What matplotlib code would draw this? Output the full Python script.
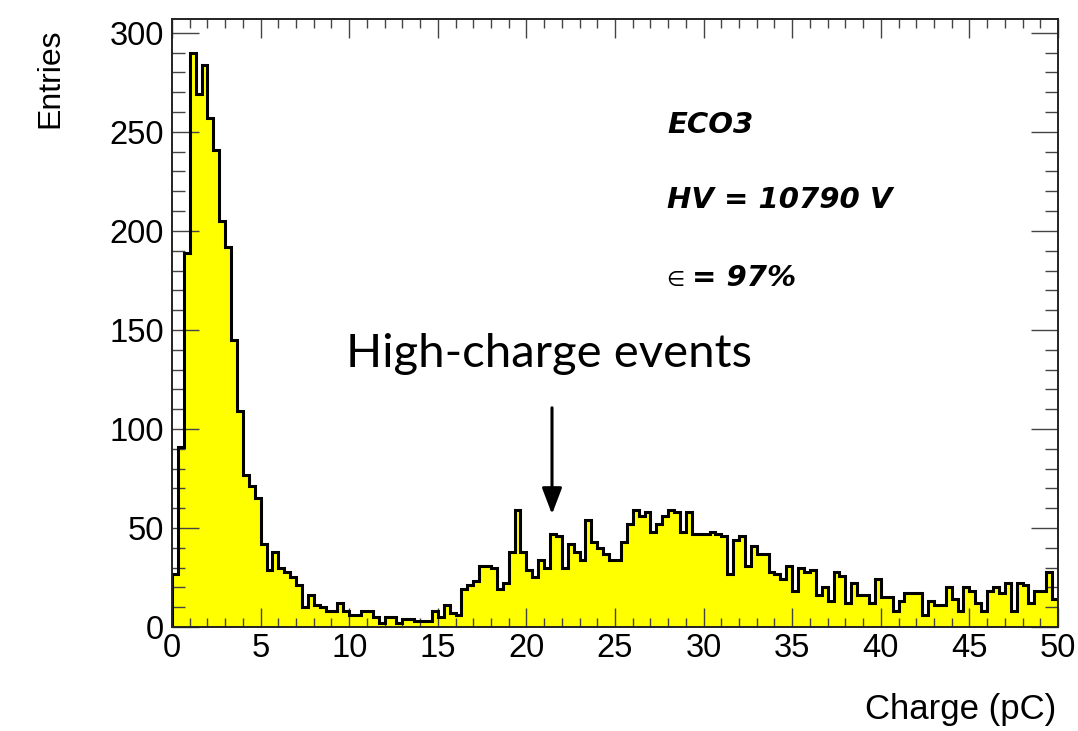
import numpy as np
import matplotlib
matplotlib.use('Agg')
import matplotlib.pyplot as plt
from matplotlib.ticker import MultipleLocator

# histogram: 150 bins of 1/3 pC between 0 and 50 pC
q_min, q_max = 0.0, 50.0
# counts, 3 bins per pC
counts_peak = [27, 91, 189, 290, 269, 284, 257, 241, 205, 192, 145, 109,
               77, 71, 65, 42, 29, 38, 30, 28, 25, 21, 10, 16,
               11, 10, 8, 8, 12, 8, 6, 6, 8, 8, 5, 2,
               5, 5, 2, 4, 4, 3, 3, 3, 8, 5, 11, 7,
               6, 19, 21]
counts_bump = [23, 31, 31, 30, 19, 22, 38, 59, 38, 29, 25, 34,
               30, 47, 46, 30, 42, 38, 34, 54, 43, 40, 37, 34,
               34, 43, 52, 59, 56, 58, 48, 52, 56, 59, 58, 48,
               58, 47, 47, 47, 48, 47, 46, 27, 44, 46, 31, 41,
               37, 37, 28]
counts_tail = [27, 24, 31, 18, 30, 28, 29, 16, 20, 13, 28, 26,
               12, 22, 16, 16, 12, 24, 15, 15, 8, 13, 17, 17,
               17, 6, 13, 11, 11, 20, 14, 8, 20, 18, 12, 8,
               18, 20, 17, 22, 8, 22, 21, 12, 18, 18, 28, 14]

labels = ["ECO3", "HV = 10790 V", "= 97%"]

counts = np.array(counts_peak + counts_bump + counts_tail)
edges = np.linspace(q_min, q_max, len(counts) + 1)

W, H = 1078, 731
fig = plt.figure(figsize=(W / 100, H / 100), dpi=100)

def fx(px):
    return px / W

def fy(py):
    return 1 - py / H

ax = fig.add_axes([fx(172), fy(627), fx(1058) - fx(172), fy(19) - fy(627)])

ax.stairs(counts, edges, fill=True, color='#ffff00', zorder=1)
ax.stairs(counts, edges, color='black', linewidth=2.2, zorder=2)

ax.set_xlim(q_min, q_max)
ax.set_ylim(0, 307)

ax.xaxis.set_major_locator(MultipleLocator(5))
ax.xaxis.set_minor_locator(MultipleLocator(1))
ax.yaxis.set_major_locator(MultipleLocator(50))
ax.yaxis.set_minor_locator(MultipleLocator(10))

ax.tick_params(axis='both', which='both', direction='in', top=True, right=True,
               colors='#444444', width=1.0, labelcolor='black')
ax.tick_params(axis='x', which='major', length=13.5, pad=4)
ax.tick_params(axis='x', which='minor', length=6.8)
ax.tick_params(axis='y', which='major', length=19.5, pad=6)
ax.tick_params(axis='y', which='minor', length=9.7)
for lab in ax.get_xticklabels() + ax.get_yticklabels():
    lab.set_fontfamily('Liberation Sans')
    lab.set_fontsize(23.5)

for sp in ax.spines.values():
    sp.set_linewidth(1.4)
    sp.set_color('#222222')

fig.text(fx(50), fy(78), 'Entries', rotation=90, ha='center', va='center',
         family='Liberation Sans', size=23)
fig.text(fx(1056), fy(710), 'Charge (pC)', ha='right', va='center',
         family='Liberation Sans', size=25)

bi = dict(family='DejaVu Sans', weight='bold', style='italic', size=21)
fig.text(fx(667), fy(125), labels[0], ha='left', va='center', **bi)
fig.text(fx(667), fy(200), labels[1], ha='left', va='center', **bi)
fig.text(fx(666), fy(280), '\u2208', ha='left', va='center',
         family=['Liberation Sans', 'DejaVu Sans'], size=15)
fig.text(fx(692), fy(278), labels[2], ha='left', va='center', **bi)

fig.text(fx(549), fy(354), 'High-charge events', ha='center', va='center',
         family='Lato', size=34)
fig.add_artist(matplotlib.patches.FancyArrowPatch(
    (fx(552), fy(405)), (fx(552), fy(517)), transform=fig.transFigure,
    arrowstyle='-|>,head_length=1.0,head_width=0.38', mutation_scale=16,
    linewidth=2.2, color='black'))

fig.savefig('out.png', dpi=100)
